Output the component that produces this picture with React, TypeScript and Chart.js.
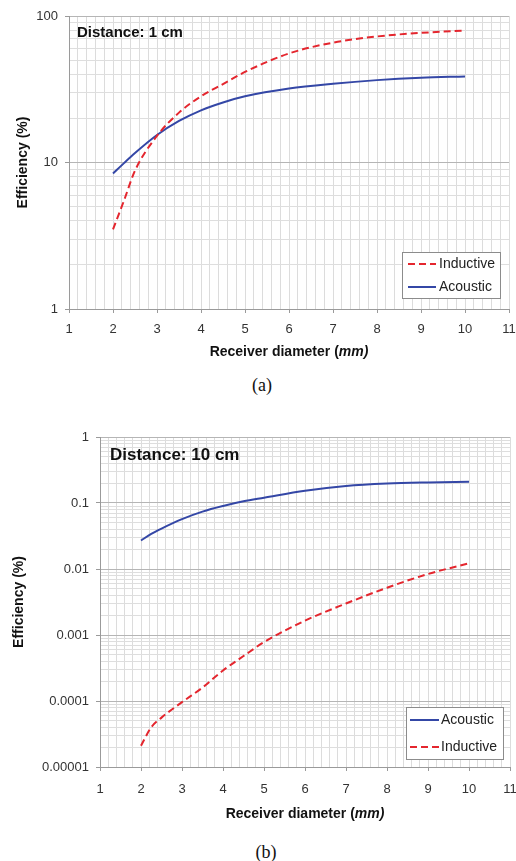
import React, { useEffect, useRef } from 'react';
import { Chart, registerables } from 'chart.js';

Chart.register(...registerables);

const SANS = "'Liberation Sans', Arial, Helvetica, sans-serif";
const SERIF = "'Liberation Serif', 'Times New Roman', Times, serif";

// Receiver diameter (mm) at which the efficiencies are sampled
const diameterMm = [2, 2.25, 2.5, 3, 3.5, 4, 4.5, 5, 6, 7, 8, 9, 10];

// Link efficiency (%) at a distance of 1 cm
const inductive1cm = [3.5, 5.5, 8.8, 15.2, 21.9, 28.3, 34.3, 41.5, 55.5, 65.8, 72.5, 76.7, 79.6];
const acoustic1cm = [8.4, 9.9, 11.6, 15.4, 19.2, 22.7, 25.7, 28.3, 32.0, 34.5, 36.5, 37.9, 38.7];

// Link efficiency (%) at a distance of 10 cm
const acoustic10cm = [0.027, 0.034, 0.041, 0.057, 0.074, 0.09, 0.106, 0.12, 0.153, 0.181, 0.197, 0.205, 0.21];
const inductive10cm = [
  0.000021, 0.00004, 0.000056, 0.000096, 0.00016, 0.00029, 0.00048, 0.00078, 0.00165, 0.003, 0.0052,
  0.0084, 0.0122,
];

// Axis tick labels
const xTickValues = [1, 2, 3, 4, 5, 6, 7, 8, 9, 10, 11];
const xTickLabels = ['1', '2', '3', '4', '5', '6', '7', '8', '9', '10', '11'];
const yTickValuesA = [1, 10, 100];
const yTickLabelsA = ['1', '10', '100'];
const yTickValuesB = [0.00001, 0.0001, 0.001, 0.01, 0.1, 1];
const yTickLabelsB = ['0.00001', '0.0001', '0.001', '0.01', '0.1', '1'];

const RED = '#e4262e';
const BLUE = '#3447a6';

type Series = { label: string; values: number[]; color: string; dashed: boolean };

type PanelProps = {
  top: number;
  height: number;
  series: Series[];
  legendOrder: string[];
  yTickValues: number[];
  yTickLabels: string[];
  distanceText: string;
  distX: number;
  distY: number;
  distSize: number;
  yAxisWidth: number;
  xAxisHeight: number;
  padTop: number;
  padRight: number;
  yTitlePad: number;
  xTickPad: number;
  xTitleY: number;
  legend: { x: number; y: number; w: number; h: number; rows: number[]; lineX0: number; lineX1: number; textX: number };
};

const isDecade = (v: number) => {
  const l = Math.log10(v);
  return Math.abs(l - Math.round(l)) < 1e-6;
};

const logGridValues = (min: number, max: number) => {
  const out: number[] = [];
  const e0 = Math.round(Math.log10(min));
  const e1 = Math.round(Math.log10(max));
  for (let e = e0; e < e1; e++) {
    for (let k = 1; k <= 9; k++) out.push(parseFloat((k * Math.pow(10, e)).toPrecision(10)));
  }
  out.push(max);
  return out;
};

const linearGridValues = () => {
  const out: number[] = [];
  for (let i = 5; i <= 55; i++) out.push(Math.round(i * 2) / 10);
  return out;
};

function Panel(p: PanelProps) {
  const ref = useRef<HTMLCanvasElement>(null);

  useEffect(() => {
    const yMin = p.yTickValues[0];
    const yMax = p.yTickValues[p.yTickValues.length - 1];

    const decor = {
      id: 'panelDecor',
      afterDraw(chart: any) {
        const ctx: CanvasRenderingContext2D = chart.ctx;
        const area = chart.chartArea;
        ctx.save();

        // distance annotation inside the plot
        ctx.font = `bold ${p.distSize}px ${SANS}`;
        ctx.fillStyle = '#111';
        ctx.textBaseline = 'middle';
        ctx.textAlign = 'left';
        ctx.fillText(p.distanceText, p.distX, p.distY);

        // x-axis title with the unit in italics
        const part1 = 'Receiver diameter (';
        const part2 = 'mm)';
        ctx.font = `bold 14px ${SANS}`;
        const w1 = ctx.measureText(part1).width;
        ctx.font = `italic bold 14px ${SANS}`;
        const w2 = ctx.measureText(part2).width;
        const cx = (area.left + area.right) / 2;
        const x0 = cx - (w1 + w2) / 2;
        ctx.font = `bold 14px ${SANS}`;
        ctx.fillText(part1, x0, p.xTitleY);
        ctx.font = `italic bold 14px ${SANS}`;
        ctx.fillText(part2, x0 + w1, p.xTitleY);

        // legend box
        const L = p.legend;
        ctx.fillStyle = '#ffffff';
        ctx.fillRect(L.x, L.y, L.w, L.h);
        ctx.strokeStyle = '#8c8c8c';
        ctx.lineWidth = 1;
        ctx.strokeRect(L.x + 0.5, L.y + 0.5, L.w, L.h);
        p.legendOrder.forEach((name, i) => {
          const ds = chart.data.datasets.find((d: any) => d.label === name);
          if (!ds) return;
          const y = L.y + L.rows[i];
          ctx.strokeStyle = ds.borderColor;
          ctx.lineWidth = ds.borderWidth;
          ctx.setLineDash(ds.borderDash || []);
          ctx.beginPath();
          ctx.moveTo(L.x + L.lineX0, y);
          ctx.lineTo(L.x + L.lineX1, y);
          ctx.stroke();
          ctx.setLineDash([]);
          ctx.fillStyle = '#222';
          ctx.font = `14px ${SANS}`;
          ctx.textBaseline = 'middle';
          ctx.fillText(ds.label, L.x + L.textX, y + 0.5);
        });
        ctx.restore();
      },
    };

    const chart = new Chart(ref.current as HTMLCanvasElement, {
      type: 'line',
      data: {
        datasets: p.series.map((s) => ({
          label: s.label,
          data: diameterMm.map((d, i) => ({ x: d, y: s.values[i] })),
          borderColor: s.color,
          backgroundColor: s.color,
          borderWidth: 2,
          borderDash: s.dashed ? [7, 4] : [],
          pointRadius: 0,
          fill: false,
          cubicInterpolationMode: 'monotone',
        })),
      },
      options: {
        responsive: false,
        animation: false,
        events: [],
        layout: { padding: { top: p.padTop, right: p.padRight, left: 0, bottom: 0 } },
        plugins: { legend: { display: false }, tooltip: { enabled: false }, title: { display: false } },
        scales: {
          x: {
            type: 'linear',
            min: 1,
            max: 11,
            afterBuildTicks: (scale: any) => {
              scale.ticks = linearGridValues().map((v) => ({ value: v }));
            },
            afterFit: (scale: any) => {
              scale.height = p.xAxisHeight;
              scale.paddingLeft = 0;
              scale.paddingRight = 0;
            },
            ticks: {
              autoSkip: false,
              maxRotation: 0,
              padding: p.xTickPad,
              color: '#333',
              font: { size: 13, family: SANS },
              callback: (v: any) => {
                const idx = xTickValues.findIndex((t) => Math.abs(t - Number(v)) < 1e-6);
                return idx >= 0 ? xTickLabels[idx] : '';
              },
            },
            grid: {
              color: '#dcdcdc',
              lineWidth: 1,
              tickLength: 4,
              tickColor: (ctx: any) =>
                ctx.tick && Math.abs(ctx.tick.value - Math.round(ctx.tick.value)) < 1e-6 ? '#9a9a9a' : 'rgba(0,0,0,0)',
            },
            border: { color: '#9a9a9a', width: 1 },
          },
          y: {
            type: 'logarithmic',
            min: yMin,
            max: yMax,
            afterBuildTicks: (scale: any) => {
              scale.ticks = logGridValues(yMin, yMax).map((v) => ({ value: v, major: isDecade(v) }));
            },
            afterFit: (scale: any) => {
              scale.width = p.yAxisWidth;
              scale.paddingTop = 0;
              scale.paddingBottom = 0;
            },
            ticks: {
              autoSkip: false,
              padding: 7,
              color: '#333',
              font: { size: 13, family: SANS },
              callback: (v: any) => {
                const idx = p.yTickValues.findIndex((t) => Math.abs(Math.log10(t) - Math.log10(Number(v))) < 1e-6);
                return idx >= 0 ? p.yTickLabels[idx] : '';
              },
            },
            grid: {
              color: (ctx: any) => (ctx.tick && isDecade(ctx.tick.value) ? '#b5b5b5' : '#dedede'),
              lineWidth: 1,
              tickLength: 4,
              tickColor: (ctx: any) => (ctx.tick && isDecade(ctx.tick.value) ? '#9a9a9a' : 'rgba(0,0,0,0)'),
            },
            border: { color: '#9a9a9a', width: 1 },
            title: {
              display: true,
              text: 'Efficiency (%)',
              color: '#111',
              font: { size: 14, weight: 'bold', family: SANS },
              padding: { top: p.yTitlePad, bottom: 0 },
            },
          },
        },
      },
      plugins: [decor],
    } as any);

    return () => chart.destroy();
  }, []);

  return (
    <canvas
      ref={ref}
      width={516}
      height={p.height}
      style={{ position: 'absolute', left: 0, top: p.top, width: 516, height: p.height, display: 'block' }}
    />
  );
}

const captionStyle = (top: number, left: number): React.CSSProperties => ({
  position: 'absolute',
  top,
  left,
  width: 40,
  marginLeft: -20,
  textAlign: 'center',
  fontFamily: SERIF,
  fontSize: 18,
  lineHeight: '20px',
  color: '#111',
});

export default function App() {
  return (
    <div style={{ position: 'absolute', left: 0, top: 0, width: 516, height: 861, background: '#fff', overflow: 'hidden' }}>
      <Panel
        top={0}
        height={370}
        series={[
          { label: 'Inductive', values: inductive1cm, color: RED, dashed: true },
          { label: 'Acoustic', values: acoustic1cm, color: BLUE, dashed: false },
        ]}
        legendOrder={['Inductive', 'Acoustic']}
        yTickValues={yTickValuesA}
        yTickLabels={yTickLabelsA}
        distanceText="Distance: 1 cm"
        distX={77}
        distY={33}
        distSize={15}
        yAxisWidth={69}
        xAxisHeight={61}
        padTop={16}
        padRight={7}
        yTitlePad={15}
        xTickPad={9}
        xTitleY={352}
        legend={{ x: 402, y: 252, w: 98, h: 46, rows: [12, 35], lineX0: 6, lineX1: 34, textX: 37 }}
      />
      <div style={captionStyle(375, 262)}>(a)</div>
      <Panel
        top={420}
        height={420}
        series={[
          { label: 'Acoustic', values: acoustic10cm, color: BLUE, dashed: false },
          { label: 'Inductive', values: inductive10cm, color: RED, dashed: true },
        ]}
        legendOrder={['Acoustic', 'Inductive']}
        yTickValues={yTickValuesB}
        yTickLabels={yTickLabelsB}
        distanceText="Distance: 10 cm"
        distX={110}
        distY={35}
        distSize={17}
        yAxisWidth={100}
        xAxisHeight={73}
        padTop={17}
        padRight={6}
        yTitlePad={11}
        xTickPad={11}
        xTitleY={394}
        legend={{ x: 406, y: 287, w: 97, h: 52, rows: [13, 40], lineX0: 4, lineX1: 33, textX: 35 }}
      />
      <div style={captionStyle(842, 266)}>(b)</div>
    </div>
  );
}
